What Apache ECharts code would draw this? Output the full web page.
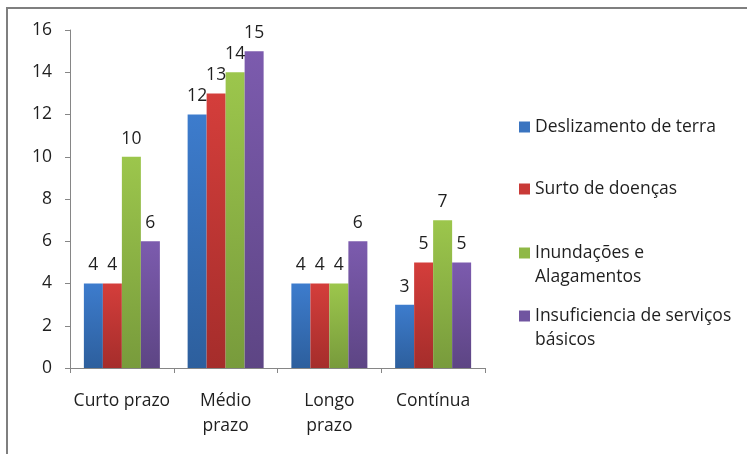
<!DOCTYPE html>
<html>
<head>
<meta charset="utf-8">
<script src="https://cdn.jsdelivr.net/npm/echarts@6/dist/echarts.min.js"></script>
<style>
html,body{margin:0;padding:0;background:#fff;}
#chart{width:747px;height:454px;}
</style>
</head>
<body>
<div id="chart"></div>
<script>
const categories = ['Curto prazo', 'Médio\nprazo', 'Longo\nprazo', 'Contínua'];
const seriesNames = ['Deslizamento de terra', 'Surto de doenças', 'Inundações e Alagamentos', 'Insuficiencia de serviços básicos'];
const legendLabels = ['Deslizamento de terra', 'Surto de doenças', '\nInundações e\nAlagamentos', '\nInsuficiencia de serviços\nbásicos'];
const deslizamento = [4, 12, 4, 3];
const surto = [4, 13, 4, 5];
const inundacoes = [10, 14, 4, 7];
const insuficiencia = [6, 15, 6, 5];
const yTicks = [0, 2, 4, 6, 8, 10, 12, 14, 16];

const values = [deslizamento, surto, inundacoes, insuficiencia];
const gradTop = ['#3d7ccd', '#d43e3b', '#9cc64c', '#7c5bae'];
const gradBottom = ['#2d5f9d', '#a52d2b', '#789b3c', '#5d4584'];
const legendColors = ['#3a74c0', '#c93a37', '#8fb846', '#7055a0'];
const legendTops = [115, 177, 217, 280];

const FONT = 'Open Sans';
const TXT = '#1f1f1f';

const chart = echarts.init(document.getElementById('chart'), null, {renderer: 'canvas'});

const series = seriesNames.map((name, i) => ({
  name: name,
  type: 'bar',
  data: values[i],
  barWidth: 19,
  barGap: '0%',
  itemStyle: {
    color: new echarts.graphic.LinearGradient(0, 0, 0, 1, [
      {offset: 0, color: gradTop[i]},
      {offset: 1, color: gradBottom[i]}
    ])
  },
  label: {
    show: true,
    position: 'top',
    distance: 9,
    color: TXT,
    fontFamily: FONT,
    fontSize: 17.5
  },
  emphasis: {disabled: true}
}));

const legends = seriesNames.map((name, i) => ({
  data: [{name: name, itemStyle: {color: legendColors[i]}}],
  left: 519,
  top: legendTops[i],
  orient: 'vertical',
  padding: 0,
  icon: 'rect',
  itemWidth: 11,
  itemHeight: 11,
  formatter: () => legendLabels[i],
  selectedMode: false,
  textStyle: {
    color: TXT,
    fontFamily: FONT,
    fontSize: 17.5,
    lineHeight: 24
  }
}));

chart.setOption({
  animation: false,
  backgroundColor: '#ffffff',
  grid: {left: 70, right: 262, top: 30, bottom: 86, containLabel: false},
  legend: legends,
  xAxis: {
    type: 'category',
    data: categories,
    axisLine: {lineStyle: {color: '#868686', width: 1}},
    axisTick: {show: true, length: 5, lineStyle: {color: '#868686'}},
    axisLabel: {
      color: TXT,
      fontFamily: FONT,
      fontSize: 17.5,
      lineHeight: 25,
      margin: 21,
      interval: 0
    },
    splitLine: {show: false}
  },
  yAxis: {
    type: 'value',
    min: yTicks[0],
    max: yTicks[yTicks.length - 1],
    interval: yTicks[1] - yTicks[0],
    axisLine: {show: true, lineStyle: {color: '#868686', width: 1}},
    axisTick: {show: true, length: 5, lineStyle: {color: '#868686'}},
    axisLabel: {
      color: TXT,
      fontFamily: FONT,
      fontSize: 17.5,
      margin: 18
    },
    splitLine: {show: false}
  },
  graphic: [{
    type: 'rect',
    shape: {x: 7, y: 8, width: 800, height: 500},
    style: {fill: 'none', stroke: '#7f7f7f', lineWidth: 2},
    silent: true,
    z: -1
  }],
  series: series
});
</script>
</body>
</html>
